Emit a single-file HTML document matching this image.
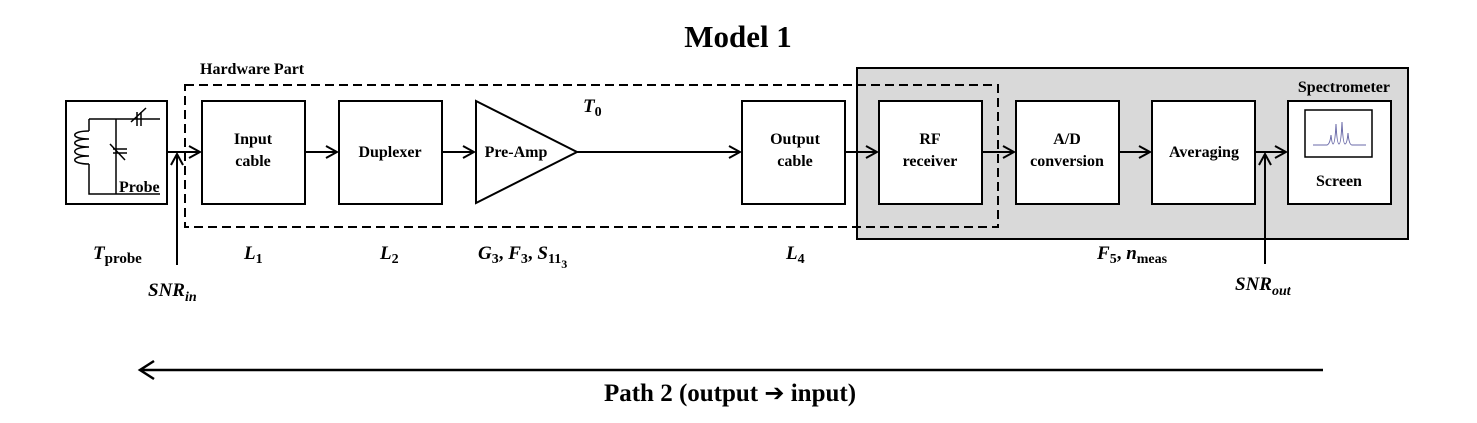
<!DOCTYPE html>
<html><head><meta charset="utf-8"><style>
body{margin:0;background:#fff}
svg{display:block;font-family:"Liberation Serif",serif;font-weight:bold}
</style></head><body>
<svg width="1477" height="423" viewBox="0 0 1477 423">
<defs><marker id="ah" markerWidth="14" markerHeight="14" refX="12" refY="7" orient="auto" markerUnits="userSpaceOnUse"><path d="M1,1 L12,7 L1,13" fill="none" stroke="#000" stroke-width="2"/></marker></defs>
<text x="738" y="47" font-size="31" text-anchor="middle">Model 1</text>
<rect x="857" y="68" width="551" height="171" fill="#d9d9d9" stroke="#000" stroke-width="2"/>
<text x="1390" y="92" font-size="16" text-anchor="end">Spectrometer</text>
<text x="200" y="74" font-size="16">Hardware Part</text>
<rect x="185" y="85" width="813" height="142" fill="none" stroke="#000" stroke-width="2" stroke-dasharray="9,5"/>
<g stroke="#000" stroke-width="2" fill="#fff">
<rect x="66" y="101" width="101" height="103"/>
<rect x="202" y="101" width="103" height="103"/>
<rect x="339" y="101" width="103" height="103"/>
<polygon points="476,101 577,152 476,203"/>
<rect x="742" y="101" width="103" height="103"/>
<rect x="879" y="101" width="103" height="103"/>
<rect x="1016" y="101" width="103" height="103"/>
<rect x="1152" y="101" width="103" height="103"/>
<rect x="1288" y="101" width="103" height="103"/>
<rect x="1305" y="110" width="67" height="47" stroke-width="1.5"/>
</g>
<path d="M1313,145 L1327,145 Q1330,144 1331,135 Q1332,144 1333,144 Q1335,144 1336,124 Q1337,144 1339,144 Q1341,144 1342,122 Q1343,144 1345,144 Q1347,144 1348,133 Q1349,145 1352,145 L1366,145" fill="none" stroke="#6a6aa8" stroke-width="1"/>
<g stroke="#000" stroke-width="1.5" fill="none">
<path d="M89,119 L89,131 M89,164 L89,194 L160,194 M89,119 L160,119 M116,119 L116,194"/>
<path d="M89,131 C70,131 70,139 89,139 C70,139 70,147 89,147 C70,147 70,156 89,156 C70,156 70,164 89,164"/>
<path d="M137,112 L137,126 M141,112 L141,126 M131,122 L146,108 M113,149 L127,149 M113,153 L127,153 M110,144 L125,160"/>
</g>
<text x="119" y="192" font-size="16">Probe</text>
<g font-size="16" text-anchor="middle">
<text x="253" y="144"><tspan x="253">Input</tspan><tspan x="253" dy="22">cable</tspan></text>
<text x="390" y="157">Duplexer</text>
<text x="516" y="157">Pre-Amp</text>
<text x="795" y="144"><tspan x="795">Output</tspan><tspan x="795" dy="22">cable</tspan></text>
<text x="930" y="144"><tspan x="930">RF</tspan><tspan x="930" dy="22">receiver</tspan></text>
<text x="1067" y="144"><tspan x="1067">A/D</tspan><tspan x="1067" dy="22">conversion</tspan></text>
<text x="1204" y="157">Averaging</text>
<text x="1339" y="186">Screen</text>
</g>
<g stroke="#000" stroke-width="2" marker-end="url(#ah)">
<line x1="167" y1="152" x2="200" y2="152"/>
<line x1="305" y1="152" x2="337" y2="152"/>
<line x1="442" y1="152" x2="474" y2="152"/>
<line x1="577" y1="152" x2="740" y2="152"/>
<line x1="845" y1="152" x2="877" y2="152"/>
<line x1="982" y1="152" x2="1014" y2="152"/>
<line x1="1119" y1="152" x2="1150" y2="152"/>
<line x1="1255" y1="152" x2="1286" y2="152"/>
<line x1="177" y1="265" x2="177" y2="154"/>
<line x1="1265" y1="264" x2="1265" y2="154"/>
</g>
<g font-size="19" font-style="italic">
<text x="583" y="112">T<tspan font-style="normal" font-size="14" dy="4">0</tspan></text>
<text x="93" y="259">T<tspan font-style="normal" font-size="15" dy="4">probe</tspan></text>
<text x="244" y="259">L<tspan font-style="normal" font-size="14" dy="4">1</tspan></text>
<text x="380" y="259">L<tspan font-style="normal" font-size="14" dy="4">2</tspan></text>
<text x="478" y="259">G<tspan font-style="normal" font-size="14" dy="4">3</tspan><tspan font-style="normal" dy="-4">, </tspan>F<tspan font-style="normal" font-size="14" dy="4">3</tspan><tspan font-style="normal" dy="-4">, </tspan>S<tspan font-style="normal" font-size="14" dy="4">11</tspan><tspan font-style="normal" font-size="12" dy="5">3</tspan></text>
<text x="786" y="259">L<tspan font-style="normal" font-size="14" dy="4">4</tspan></text>
<text x="1097" y="259">F<tspan font-style="normal" font-size="14" dy="4">5</tspan><tspan font-style="normal" dy="-4">, </tspan>n<tspan font-style="normal" font-size="14" dy="4">meas</tspan></text>
<text x="148" y="296">SNR<tspan font-size="14" dy="5">in</tspan></text>
<text x="1235" y="290">SNR<tspan font-size="14" dy="5">out</tspan></text>
</g>
<line x1="1323" y1="370" x2="142" y2="370" stroke="#000" stroke-width="2.5"/>
<path d="M154,361 L140,370 L154,379" fill="none" stroke="#000" stroke-width="2.5"/>
<text x="730" y="401" font-size="25" text-anchor="middle">Path 2 (output <tspan font-family="DejaVu Sans" font-size="24">➔</tspan> input)</text>
</svg>
</body></html>
